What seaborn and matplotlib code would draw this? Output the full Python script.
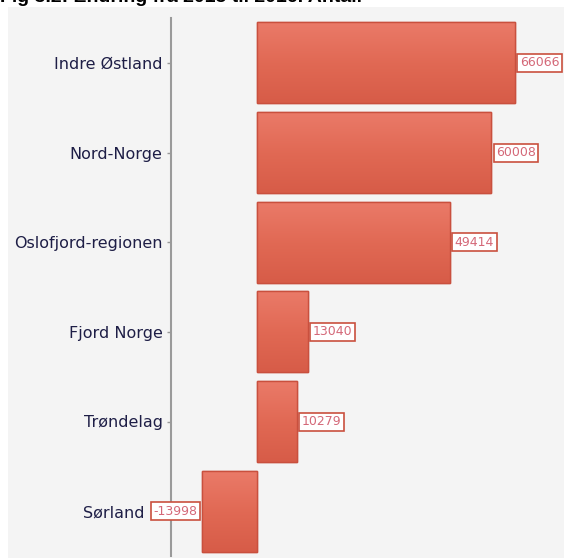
import matplotlib
matplotlib.use("Agg")
import matplotlib.pyplot as plt
import matplotlib.transforms as mtransforms
import seaborn as sns
import pandas as pd
import numpy as np
from matplotlib.patches import Rectangle
from matplotlib.colors import LinearSegmentedColormap

categories = ["Indre Østland", "Nord-Norge", "Oslofjord-regionen", "Fjord Norge", "Trøndelag", "Sørland"]
values = [66066, 60008, 49414, 13040, 10279, -13998]
title = "Fig 3.2: Endring fra 2015 til 2016. Antall"

df = pd.DataFrame({"region": categories, "endring": values})

sns.set_theme(style="white")
plt.rcParams["font.family"] = ["DejaVu Sans"]

W, H = 564, 558
fig = plt.figure(figsize=(W / 100, H / 100), dpi=100, facecolor="white")
bg = "#f4f4f4"
fig.patches.append(Rectangle((8 / W, 0), 1, 1 - 7 / H, transform=fig.transFigure,
                             facecolor=bg, edgecolor="none", zorder=-10))

ax = fig.add_axes([171 / W, 2 / H, (W - 171) / W + 0.05, 1 - 20 / H])
ax.set_facecolor(bg)

sns.barplot(data=df, y="region", x="endring", orient="h", ax=ax, width=0.9,
            color="#e26a56", edgecolor="#c9503e", linewidth=1, saturation=1)

px_per_unit = 258 / 66066
xlim = (-22000, -22000 + ((W - 171) + 0.05 * W) / px_per_unit)

# vertical gradient fill inside each bar
cmap = LinearSegmentedColormap.from_list("g", ["#ea7a68", "#e16954", "#d75c48"])
grad = np.linspace(0, 1, 64).reshape(-1, 1)
for p in list(ax.patches):
    x0, y0 = p.get_x(), p.get_y()
    w, h = p.get_width(), p.get_height()
    im = ax.imshow(grad, cmap=cmap, aspect="auto", extent=(x0, x0 + w, y0 + h, y0),
                   origin="upper", zorder=p.get_zorder() + 0.1, interpolation="bicubic")
    im.set_clip_path(p)
    ax.add_patch(Rectangle((x0, y0), w, h, facecolor="none", edgecolor="#c9503e",
                           linewidth=1, zorder=p.get_zorder() + 0.2))
ax.set_xlim(*xlim)
ax.set_ylim(5.5, -0.5)

ax.set_xlabel("")
ax.set_ylabel("")
ax.set_xticks([])
for s in ["top", "right", "bottom"]:
    ax.spines[s].set_visible(False)
ax.spines["left"].set_color("#9a9a9a")
ax.spines["left"].set_linewidth(1.5)
ax.tick_params(axis="y", which="both", left=True, length=3, width=1, color="#9a9a9a",
               labelsize=11.5, labelcolor="#1e1e46", pad=3)

box = dict(boxstyle="square,pad=0.2", facecolor="white", edgecolor="#c9503e", linewidth=1.2)
for i, v in enumerate(values):
    if v >= 0:
        ax.annotate(f"{v}", (v, i), xytext=(3.5, 0), textcoords="offset points",
                    ha="left", va="center", fontsize=9, color="#d46878", bbox=box, zorder=6)
    else:
        ax.annotate(f"{v}", (v, i), xytext=(-3.5, 0), textcoords="offset points",
                    ha="right", va="center", fontsize=9, color="#d46878", bbox=box, zorder=6)

# the negative bar's label box sits over the tick; its category label is pushed left
for lab in ax.get_yticklabels():
    if lab.get_text() == categories[values.index(min(values))]:
        lab.set_transform(lab.get_transform() +
                          mtransforms.ScaledTranslation(-18 / 100, 0, fig.dpi_scale_trans))

fig.text(0.0, 1 - 2.5 / H, title, fontsize=14, fontweight="bold", family="Liberation Sans",
         ha="left", va="baseline", color="black")

fig.savefig("out.png", dpi=100, facecolor="white")
